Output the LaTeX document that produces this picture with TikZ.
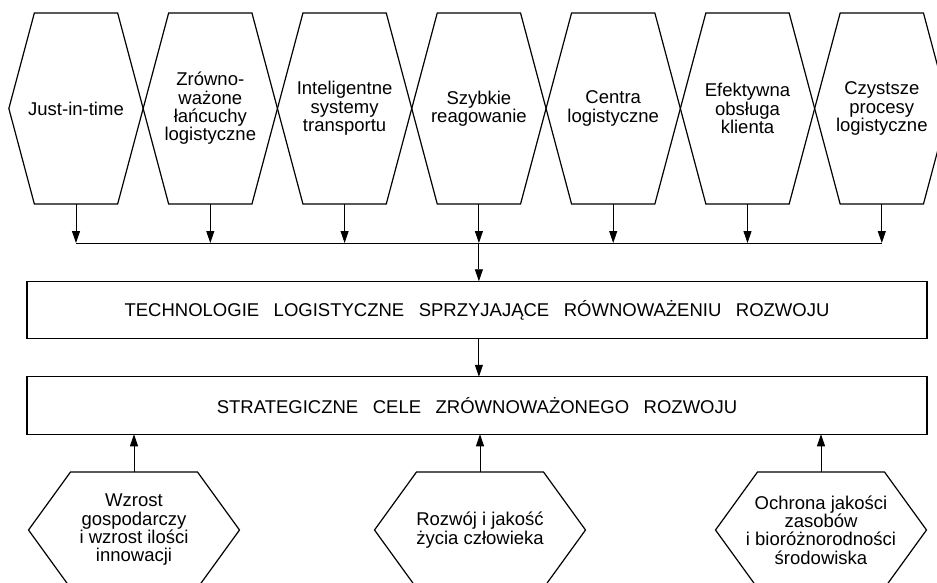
\documentclass[tikz,border=0pt]{standalone}
\usepackage{fontspec}
\setmainfont{Liberation Sans}
\usetikzlibrary{arrows.meta}
\newcommand\wgap{\hspace{14.5pt}}

\begin{document}
\begin{tikzpicture}[x=1pt,y=-1pt,line width=1.2pt]
    \tikzstyle{every node}+=[inner sep=0pt,outer sep=0pt,align=center,font=\fontsize{18.5}{18.3}\selectfont]
    \tikzstyle{arr}=[-{Triangle[length=12pt,width=8pt]},line width=0.9pt]
    \tikzstyle{tophex}=[minimum width=134.3pt,minimum height=191pt]
    \tikzstyle{bothex}=[minimum width=211pt,minimum height=116pt]
    \tikzstyle{wide}=[draw,minimum width=900pt,minimum height=57.5pt]
    \clip (0,0) rectangle (937,583);
    \node [tophex] (h1) at (76,108.5) {Just-in-time};
    \node [tophex] (h2) at (210.3,108.5) {Zrówno-\\ważone\\łańcuchy\\logistyczne};
    \node [tophex] (h3) at (344.6,108.5) {Inteligentne\\systemy\\transportu};
    \node [tophex] (h4) at (478.9,108.5) {Szybkie\\reagowanie};
    \node [tophex] (h5) at (613.2,108.5) {Centra\\logistyczne};
    \node [tophex] (h6) at (747.5,108.5) {Efektywna\\obsługa\\klienta};
    \node [tophex] (h7) at (881.8,108.5) {Czystsze\\procesy\\logistyczne};
    \node [wide] (tech) at (477,310) {TECHNOLOGIE\wgap LOGISTYCZNE\wgap SPRZYJAJĄCE\wgap RÓWNOWAŻENIU\wgap ROZWOJU};
    \node [wide] (cele) at (477,405.5) {STRATEGICZNE\wgap CELE\wgap ZRÓWNOWAŻONEGO\wgap ROZWOJU};
    \node [bothex] (b1) at (134,530) {Wzrost\\gospodarczy\\i wzrost ilości\\innowacji};
    \node [bothex] (b2) at (480,530) {Rozwój i jakość\\życia człowieka};
    \node [bothex] (b3) at (821,530) {Ochrona jakości\\zasobów\\i bioróżnorodności\\środowiska};
    \foreach \n/\d in {h1/25.5,h2/25.5,h3/25.5,h4/25.5,h5/25.5,h6/25.5,h7/25.5,b1/42,b2/42,b3/42}
        \draw (\n.west) -- ([xshift=\d pt]\n.north west) -- ([xshift=-\d pt]\n.north east)
            -- (\n.east) -- ([xshift=-\d pt]\n.south east) -- ([xshift=\d pt]\n.south west) -- cycle;
    \coordinate (bus) at (478.9,243);
    \foreach \n in {h1,h2,h3,h4,h5,h6,h7}
        \draw [arr] (\n.south) -- (\n.south |- bus);
    \draw [line width=0.9pt] (h1.south |- bus) -- (h7.south |- bus);
    \draw [arr] (bus) -- (bus |- tech.north);
    \draw [arr] (bus |- tech.south) -- (bus |- cele.north);
    \foreach \n in {b1,b2,b3}
        \draw [arr] (\n.north) -- (\n.north |- cele.south);
\end{tikzpicture}
\end{document}
